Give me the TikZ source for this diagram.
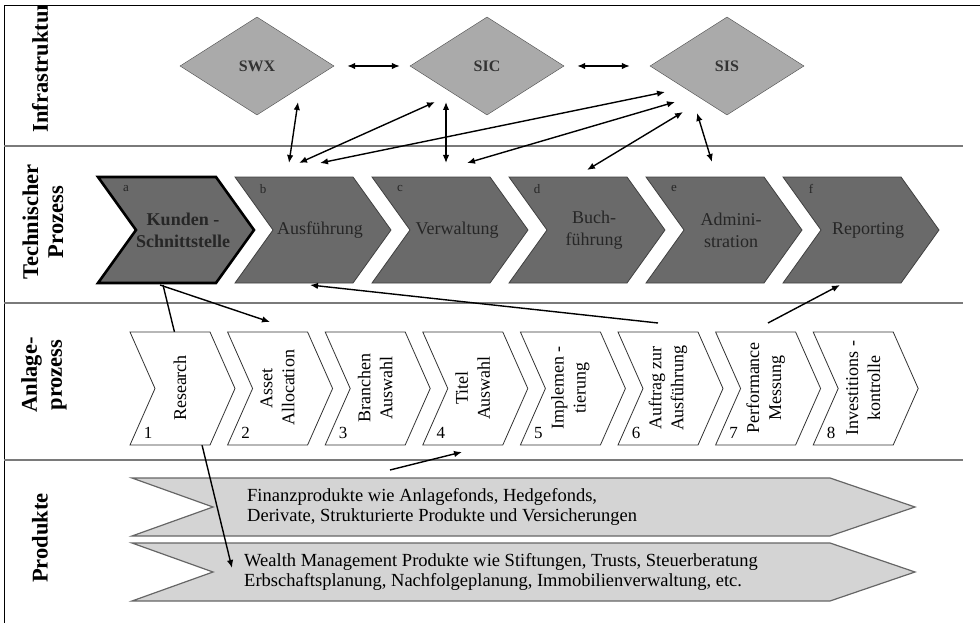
\documentclass[tikz,border=0pt]{standalone}
\usepackage{fontspec}
\setmainfont{Liberation Serif}
\usetikzlibrary{calc, shapes.geometric, positioning, arrows.meta}
\definecolor{techgray}{HTML}{6A6A6A}
\definecolor{infogray}{HTML}{AAAAAA}
\definecolor{prodgray}{HTML}{D4D4D4}
\definecolor{rulegray}{HTML}{7A7A7A}
\tikzset{
    rownode/.style = {draw=none, fill=none, rotate=90, inner sep=0pt, align=center,
      font=\fontsize{22.5}{25}\selectfont\bfseries},
    infonode/.style = {draw=black!70, fill=infogray, diamond, inner sep=0pt, node distance=0pt,
      minimum width=154pt, minimum height=98pt, font=\fontsize{16}{18}\selectfont\bfseries, text=black!80},
    techshape/.style = {draw=black!75, fill=techgray, line width=0.8pt},
    anlageshape/.style = {draw=black!80, fill=white, line width=0.8pt},
    prodshape/.style = {draw=black!60, fill=prodgray, line width=1.2pt},
    textnode/.style = {draw=none, fill=none, inner sep=0pt, align=center,
      font=\fontsize{18}{22}\selectfont},
    prodtextnode/.style = {draw=none, fill=none, inner sep=0pt, anchor=west,
      every text node part/.style={align=left}, font=\fontsize{18.5}{20}\selectfont},
    smalltextnode/.style = {draw=none, fill=none, inner sep=0pt, font=\fontsize{13}{14}\selectfont},
    numnode/.style = {draw=none, fill=none, inner sep=0pt, font=\fontsize{17}{20}\selectfont},
    connect/.style = {black, line width=1.4pt, -{Latex[length=8pt,width=6.5pt]}},
    biconnect/.style = {black, line width=1.4pt, {Latex[length=8pt,width=6.5pt]}-{Latex[length=8pt,width=6.5pt]}},
    every text node part/.style={align=center}
}
\begin{document}
\begin{tikzpicture}[x=1pt, y=-1pt]
\useasboundingbox (0,0) rectangle (980,623);

% frame and row rules
\draw[line width=1pt] (4,623) -- (4,6) -- (980,6);
\foreach \y in {146,303,460}
  \draw[rulegray, line width=1.6pt] (4,\y) -- (963,\y);

% row titles
\begin{scope}
\clip (4,6) rectangle (980,623);
\node [rownode, name=Infra] at (40,67) {Infrastruktur};
\end{scope}
\node [rownode, name=Tech] at (43,222) {Technischer\\Prozess};
\node [rownode, name=Anlage] at (44,375) {Anlage-\\prozess};
\node [rownode, name=Prod] at (40,538) {Produkte};

% infrastructure
\node [infonode, name=SWX] at (257,66) {SWX};
\node [infonode, name=SIC, right of=SWX, xshift=230pt] {SIC};
\node [infonode, name=SIS, right of=SIC, xshift=240pt] {SIS};

% products
\foreach \y in {478,543}
  \draw[prodshape] (132,\y) -- (830,\y) -- (915,\y+29) -- (830,\y+58) -- (132,\y+58) -- (213,\y+29) -- cycle;
\node [prodtextnode, name=prodA] at (247,507)
  {Finanzprodukte wie Anlagefonds, Hedgefonds,\\Derivate, Strukturierte Produkte und Versicherungen};
\node [prodtextnode, name=prodB] at (244,572)
  {Wealth Management Produkte wie Stiftungen, Trusts, Steuerberatung\\Erbschaftsplanung, Nachfolgeplanung, Immobilienverwaltung, etc.};

% connector points
\coordinate (aBot) at (163,285);
\coordinate (aBotR) at (160,285);
\coordinate (wealth) at (232,568);
\coordinate (assetTop) at (270,322);
\coordinate (auftragTop) at (658,323);
\coordinate (bBot) at (310,285);
\coordinate (perfTop) at (768,323);
\coordinate (fBot) at (840,285);
\coordinate (prodTop) at (390,470);
\coordinate (titelBot) at (462,452);

% runs behind Research
\draw[connect] (aBot) -- (wealth);

% investment process
\foreach \i/\txt in {1/Research, 2/{Asset\\Allocation}, 3/{Branchen\\Auswahl}, 4/{Titel\\Auswahl},
    5/{Implemen -\\tierung}, 6/{Auftrag zur\\Ausführung}, 7/{Performance\\Messung}, 8/{Investitions -\\kontrolle}}{
  \pgfmathsetmacro{\x}{130+97.6*(\i-1)}
  \draw[anlageshape] (\x,332) -- ++(80,0) -- ++(25,56.5) -- ++(-25,56.5) -- ++(-80,0) -- ++(25,-56.5) -- cycle;
  \node [textnode, rotate=90, name=phase\i] at (\x+50,388) {\txt};
  \node [numnode, name=num\i] at (\x+18,433) {\i};
}

% technical process
\foreach \x/\lab/\txt in {98/a/{\textbf{Kunden -}\\\textbf{Schnittstelle}}, 235/b/Ausführung, 372/c/Verwaltung,
    509/d/{Buch-\\führung}, 646/e/{Admini-\\stration}, 783/f/Reporting}{
  \draw[techshape] (\x,177) -- ++(118,0) -- ++(38,53) -- ++(-38,53) -- ++(-118,0) -- ++(38,-53) -- cycle;
  \node [textnode, name=tech\lab, text=black!85] at (\x+85,230) {\txt};
  \node [smalltextnode, name=lab\lab, text=black!85] at (\x+28,189) {\lab};
}
\draw[black, line width=2.6pt] (98,177) -- ++(118,0) -- ++(38,53) -- ++(-38,53) -- ++(-118,0) -- ++(38,-53) -- cycle;

% links to infrastructure
\coordinate (SWXlow) at (298,102);  \coordinate (bSWX) at (289,163);
\coordinate (SIClow) at (435,102);  \coordinate (bSIC) at (299,163);
\coordinate (SISa) at (665,92);     \coordinate (bSIS) at (320,163);
\coordinate (SICbot) at (446,102);  \coordinate (cSIC) at (446,163);
\coordinate (SISb) at (675,102);    \coordinate (cSIS) at (467,163);
\coordinate (SISc) at (683,112);    \coordinate (dSIS) at (587,170);
\coordinate (SISd) at (697,113);    \coordinate (eSIS) at (712,162);

\draw[biconnect, shorten <=13pt, shorten >=10pt] (SWX.east) -- (SIC.west);
\draw[biconnect, shorten <=13pt, shorten >=20pt] (SIC.east) -- (SIS.west);
\draw[biconnect] (SWXlow) -- (bSWX);
\draw[biconnect] (bSIC) -- (SIClow);
\draw[biconnect] (bSIS) -- (SISa);
\draw[biconnect] (SICbot) -- (cSIC);
\draw[biconnect] (cSIS) -- (SISb);
\draw[biconnect] (SISc) -- (dSIS);
\draw[biconnect] (SISd) -- (eSIS);

% links between the rows
\draw[connect] (aBotR) -- (assetTop);
\draw[connect] (auftragTop) -- (bBot);
\draw[connect] (perfTop) -- (fBot);
\draw[connect] (prodTop) -- (titelBot);

\end{tikzpicture}
\end{document}
